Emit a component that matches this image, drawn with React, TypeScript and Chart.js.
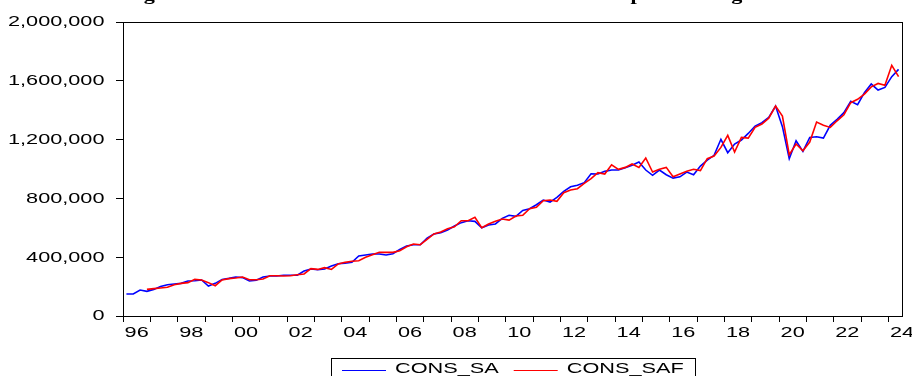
import React, { useEffect, useRef } from "react";
import { Chart, registerables } from "chart.js";

Chart.register(...registerables);

// ---- Data (quarterly, 1996Q1 .. 2024Q2) ----
const firstYear = 1996;
const quarterCount = 114;
const quarters: string[] = [];
for (let i = 0; i < quarterCount; i++) {
  quarters.push(`${firstYear + Math.floor(i / 4)}Q${(i % 4) + 1}`);
}

const consSA: number[] = [
  150000, 150000, 177000, 168000, 181000, 200000, 213000, 218000, 222000, 238000,
  240000, 245000, 204000, 222000, 249000, 256000, 265000, 261000, 238000, 243000,
  265000, 272000, 272000, 277000, 277000, 277000, 306000, 320000, 315000, 320000,
  340000, 356000, 360000, 365000, 408000, 415000, 422000, 422000, 415000, 424000,
  453000, 476000, 485000, 485000, 530000, 558000, 567000, 585000, 612000, 635000,
  648000, 644000, 600000, 619000, 626000, 664000, 685000, 678000, 718000, 730000,
  757000, 789000, 775000, 807000, 848000, 879000, 889000, 907000, 968000, 966000,
  984000, 993000, 993000, 1009000, 1025000, 1047000, 993000, 957000, 993000, 961000,
  938000, 947000, 979000, 961000, 1020000, 1061000, 1093000, 1202000, 1111000, 1170000,
  1197000, 1242000, 1292000, 1315000, 1351000, 1428000, 1288000, 1070000, 1192000, 1120000,
  1215000, 1219000, 1210000, 1297000, 1338000, 1383000, 1460000, 1437000, 1519000, 1578000,
  1537000, 1555000, 1628000, 1678000,
];

const consSAF: (number | null)[] = [
  null, null, null, 181000, 186000, 190000, 195000, 213000, 222000, 227000,
  249000, 245000, 227000, 206000, 245000, 254000, 258000, 265000, 247000, 247000,
  252000, 274000, 274000, 272000, 274000, 281000, 286000, 322000, 317000, 329000,
  317000, 354000, 365000, 372000, 376000, 399000, 417000, 433000, 433000, 433000,
  444000, 471000, 490000, 485000, 521000, 558000, 571000, 594000, 607000, 648000,
  648000, 671000, 600000, 626000, 644000, 660000, 652000, 680000, 685000, 730000,
  739000, 784000, 789000, 780000, 839000, 857000, 866000, 902000, 934000, 975000,
  966000, 1029000, 998000, 1011000, 1034000, 1011000, 1075000, 979000, 998000, 1011000,
  947000, 966000, 984000, 998000, 989000, 1070000, 1088000, 1147000, 1229000, 1115000,
  1215000, 1210000, 1283000, 1306000, 1346000, 1428000, 1360000, 1097000, 1170000, 1124000,
  1183000, 1319000, 1297000, 1283000, 1328000, 1369000, 1451000, 1474000, 1510000, 1559000,
  1582000, 1569000, 1705000, 1628000,
];

const seriesNames = ["CONS_SA", "CONS_SAF"];
const seriesColors = ["#0000ff", "#ff0000"];
const xLabelYears: number[] = [1996, 1998, 2000, 2002, 2004, 2006, 2008, 2010, 2012, 2014, 2016, 2018, 2020, 2022, 2024];
const yTickValues: number[] = [0, 400000, 800000, 1200000, 1600000, 2000000];
const titleText = "Figure 5: Stat and the forecasted series of the consumption change rate";

const quarterPos = (q: string) => {
  const year = parseInt(q.slice(0, 4), 10);
  const qq = parseInt(q.slice(5), 10);
  return year + (qq - 0.5) / 4;
};

const SX = 1.55;
const LABEL_FONT = '14px "Liberation Sans", Arial, sans-serif';
const TITLE_FONT = 'bold 16px "Liberation Serif", "Times New Roman", serif';

const stretchedText = (
  ctx: CanvasRenderingContext2D,
  text: string,
  x: number,
  y: number,
  align: CanvasTextAlign,
  baseline: CanvasTextBaseline,
  sx: number
) => {
  ctx.save();
  ctx.translate(x, y);
  ctx.scale(sx, 1);
  ctx.textAlign = align;
  ctx.textBaseline = baseline;
  ctx.fillText(text, 0, 0);
  ctx.restore();
};

const eviewsPlugin = {
  id: "eviewsDecor",
  afterDraw(chart: any) {
    const ctx: CanvasRenderingContext2D = chart.ctx;
    const { left, top, right, bottom } = chart.chartArea;
    const xs = chart.scales.x;
    const ys = chart.scales.y;
    ctx.save();
    // frame
    ctx.strokeStyle = "#000";
    ctx.lineWidth = 1;
    ctx.strokeRect(Math.round(left) + 0.5, Math.round(top) + 0.5, Math.round(right - left), Math.round(bottom - top));

    ctx.fillStyle = "#000";
    ctx.font = LABEL_FONT;
    // y labels
    yTickValues.forEach((v) => {
      const py = ys.getPixelForValue(v);
      stretchedText(ctx, v.toLocaleString("en-US"), left - 18.5, py + 0.5, "right", "middle", SX);
    });
    // x labels (centred on the year)
    xLabelYears.forEach((yr) => {
      const px = xs.getPixelForValue(yr + 0.5);
      stretchedText(ctx, String(yr % 100).padStart(2, "0"), px, 336.5, "center", "alphabetic", SX);
    });

    // legend
    const lineLen = 44;
    const gapLineText = 9;
    const gapItems = 15;
    const pad = 11;
    const widths = seriesNames.map((n) => ctx.measureText(n).width * SX);
    const boxW = pad * 2 + widths.reduce((a, w) => a + lineLen + gapLineText + w, 0) + gapItems * (seriesNames.length - 1);
    const cx = (left + right) / 2;
    const boxL = Math.round(cx - boxW / 2);
    const boxT = 358;
    ctx.strokeStyle = "#000";
    ctx.lineWidth = 1;
    ctx.strokeRect(boxL + 0.5, boxT + 0.5, Math.round(boxW), 40);
    let xx = boxL + pad;
    seriesNames.forEach((n, i) => {
      ctx.strokeStyle = seriesColors[i];
      ctx.lineWidth = 1;
      ctx.beginPath();
      ctx.moveTo(xx, 370.5);
      ctx.lineTo(xx + lineLen, 370.5);
      ctx.stroke();
      xx += lineLen + gapLineText;
      ctx.fillStyle = "#000";
      stretchedText(ctx, n, xx, 372.5, "left", "alphabetic", SX);
      xx += widths[i] + gapItems;
    });

    // title (mostly cut off at the top of the picture)
    ctx.font = TITLE_FONT;
    const tw = ctx.measureText(titleText).width;
    const tsx = 672 / tw;
    ctx.fillStyle = "#000";
    stretchedText(ctx, titleText, 460, -0.5, "center", "alphabetic", tsx);
    ctx.restore();
  },
};

export default function App() {
  const canvasRef = useRef<HTMLCanvasElement | null>(null);

  useEffect(() => {
    const canvas = canvasRef.current;
    if (!canvas) return;
    const chart = new Chart(canvas, {
      type: "line",
      data: {
        datasets: [
          {
            label: seriesNames[0],
            data: consSA.map((v, i) => ({ x: quarterPos(quarters[i]), y: v })),
            borderColor: seriesColors[0],
            backgroundColor: seriesColors[0],
            borderWidth: 1.6,
            pointRadius: 0,
            tension: 0,
            order: 1,
          },
          {
            label: seriesNames[1],
            data: consSAF.map((v, i) => ({ x: quarterPos(quarters[i]), y: v })),
            borderColor: seriesColors[1],
            backgroundColor: seriesColors[1],
            borderWidth: 1.6,
            pointRadius: 0,
            tension: 0,
            order: 0,
          },
        ],
      },
      options: {
        animation: false,
        responsive: false,
        maintainAspectRatio: false,
        layout: { padding: { top: 22, right: 10, left: 0, bottom: 0 } },
        plugins: {
          legend: { display: false },
          tooltip: { enabled: false },
          title: { display: false },
        },
        scales: {
          x: {
            type: "linear",
            min: 1996,
            max: 2024.5,
            afterFit: (s: any) => {
              s.height = 60;
            },
            ticks: { display: false, stepSize: 1, includeBounds: false },
            grid: { drawOnChartArea: false, drawTicks: true, tickLength: 6, color: "#000", tickColor: "#000" },
            border: { display: true, color: "#000" },
          },
          y: {
            type: "linear",
            min: 0,
            max: 2000000,
            afterFit: (s: any) => {
              s.width = 123;
            },
            ticks: { display: false, stepSize: 400000 },
            grid: { drawOnChartArea: false, drawTicks: true, tickLength: 7, color: "#000", tickColor: "#000" },
            border: { display: true, color: "#000" },
          },
        },
      },
      plugins: [eviewsPlugin],
    } as any);
    return () => chart.destroy();
  }, []);

  return (
    <div style={{ position: "absolute", left: 0, top: 0, width: 912, height: 376, background: "#fff" }}>
      <canvas ref={canvasRef} width={912} height={376} style={{ display: "block" }} />
    </div>
  );
}
